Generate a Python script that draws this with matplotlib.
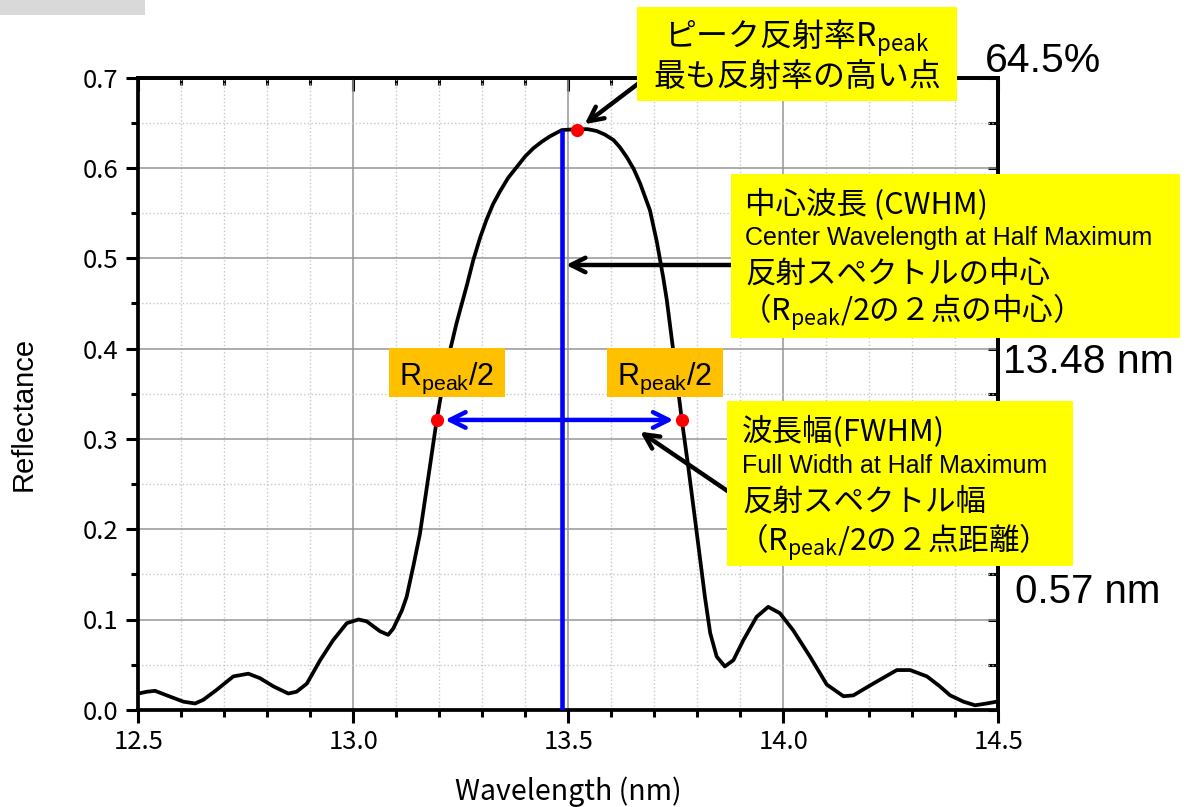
import numpy as np
import matplotlib
matplotlib.use('Agg')
import matplotlib.pyplot as plt
from matplotlib.patches import Rectangle
from matplotlib.ticker import MultipleLocator, FormatStrFormatter

# %% data
wavelength = [12.500, 12.520, 12.539, 12.566, 12.605, 12.632, 12.651, 12.682,
              12.721, 12.756, 12.783, 12.814, 12.849, 12.868, 12.892, 12.923,
              12.953, 12.985, 13.012, 13.031, 13.062, 13.081, 13.093, 13.113,
              13.124, 13.140, 13.155, 13.178, 13.194, 13.206, 13.225, 13.240,
              13.264, 13.279, 13.295, 13.310, 13.325, 13.341, 13.360, 13.380,
              13.400, 13.419, 13.438, 13.457, 13.485, 13.520, 13.545, 13.566,
              13.585, 13.605, 13.620, 13.636, 13.652, 13.667, 13.690, 13.706,
              13.721, 13.729, 13.744, 13.764, 13.779, 13.799, 13.818, 13.830,
              13.845, 13.864, 13.884, 13.907, 13.938, 13.965, 13.992, 14.023,
              14.062, 14.101, 14.140, 14.163, 14.209, 14.264, 14.295, 14.334,
              14.364, 14.388, 14.419, 14.446, 14.473, 14.496]
reflectance = [0.018, 0.020, 0.021, 0.016, 0.009, 0.007, 0.011, 0.022,
               0.037, 0.040, 0.035, 0.026, 0.018, 0.020, 0.029, 0.055,
               0.077, 0.096, 0.100, 0.098, 0.087, 0.083, 0.090, 0.110,
               0.125, 0.160, 0.195, 0.269, 0.321, 0.354, 0.398, 0.428,
               0.470, 0.498, 0.523, 0.543, 0.560, 0.574, 0.589, 0.601,
               0.613, 0.622, 0.629, 0.635, 0.642, 0.643, 0.643, 0.641,
               0.637, 0.631, 0.623, 0.612, 0.599, 0.583, 0.553, 0.518,
               0.478, 0.454, 0.398, 0.321, 0.269, 0.195, 0.124, 0.085,
               0.059, 0.048, 0.055, 0.077, 0.103, 0.114, 0.107, 0.088,
               0.059, 0.028, 0.015, 0.016, 0.029, 0.044, 0.044, 0.037,
               0.026, 0.016, 0.009, 0.005, 0.007, 0.009]

peak_wl, peak_r = 13.52, 0.642
half_wl = [13.194, 13.764]
half_r = 0.321
center_wl = 13.485

peak_text = '64.5%'
cwhm_text = '13.48 nm'
fwhm_text = '0.57 nm'

# %% fonts
JP = ['Noto Sans CJK JP', 'DejaVu Sans']
EN = ['Liberation Sans', 'DejaVu Sans']
plt.rcParams['font.family'] = JP
plt.rcParams['mathtext.fontset'] = 'custom'
plt.rcParams['mathtext.rm'] = 'Noto Sans CJK JP'

W, H = 1197, 807
fig = plt.figure(figsize=(W / 100, H / 100), dpi=100)
ax = fig.add_axes([138.3 / W, 1 - 709.8 / H, 860 / W, 632.1 / H])


def fxy(x, y):
    # pixel position measured from the top left -> figure fraction
    return x / W, 1 - y / H


def box(x0, y0, x1, y1, colour):
    fig.add_artist(Rectangle(fxy(x0, y1), (x1 - x0) / W, (y1 - y0) / H,
                             transform=fig.transFigure, facecolor=colour,
                             edgecolor='none', zorder=2))


def ftext(x, y, s, size, family=JP, ha='left'):
    fig.text(*fxy(x, y), s, fontsize=size, family=family, ha=ha,
             va='baseline', zorder=4)


# %% main plot
ax.plot(wavelength, reflectance, color='black', lw=2.7, zorder=3,
        solid_joinstyle='round')
center_r = np.interp(center_wl, wavelength, reflectance)
ax.vlines(center_wl, 0, center_r, color='#0000ff', lw=3.3, zorder=4)
ax.annotate('', xy=(half_wl[1], half_r), xytext=(half_wl[0], half_r),
            arrowprops=dict(arrowstyle='<->', color='#0000ff', lw=3.2,
                            shrinkA=6, shrinkB=6, mutation_scale=28), zorder=5)
ax.plot([peak_wl] + half_wl, [peak_r, half_r, half_r], 'o', color='#ff0000',
        ms=9.5, mec='none', zorder=6)

ax.set_xlim(12.5, 14.5)
ax.set_ylim(0, 0.7)
ax.xaxis.set_major_locator(MultipleLocator(0.5))
ax.xaxis.set_minor_locator(MultipleLocator(0.1))
ax.yaxis.set_major_locator(MultipleLocator(0.1))
ax.yaxis.set_minor_locator(MultipleLocator(0.05))
ax.xaxis.set_major_formatter(FormatStrFormatter('%.1f'))
ax.yaxis.set_major_formatter(FormatStrFormatter('%.1f'))
ax.grid(which='major', color='#969696', lw=1.1)
ax.grid(which='minor', color='#c8c8c8', lw=1, ls=':')
ax.set_axisbelow(True)
for sp in ax.spines.values():
    sp.set_linewidth(2.7)
ax.tick_params(which='both', direction='out', width=2.2, labelsize=18.5, pad=5)
ax.tick_params(which='major', length=9)
ax.tick_params(which='minor', length=5)

top = ax.secondary_xaxis('top')
top.xaxis.set_major_locator(MultipleLocator(0.5))
top.xaxis.set_minor_locator(MultipleLocator(0.1))
top.tick_params(which='both', direction='in', width=2.2, labeltop=False)
top.tick_params(which='major', length=9)
top.tick_params(which='minor', length=5)
right = ax.secondary_yaxis('right')
right.yaxis.set_major_locator(MultipleLocator(0.1))
right.yaxis.set_minor_locator(MultipleLocator(0.05))
right.tick_params(which='both', direction='in', width=2.2, labelright=False)
right.tick_params(which='major', length=7)
right.tick_params(which='minor', length=7)
for sec in (top, right):
    for sp in sec.spines.values():
        sp.set_linewidth(2.7)

ax.set_xlabel('Wavelength (nm)', fontsize=20.5)
ax.xaxis.set_label_coords(0.5, -0.105)
ax.set_ylabel('Reflectance', fontsize=21, family=EN)
ax.yaxis.set_label_coords(-0.117, 0.468)

# %% annotations
fig.add_artist(Rectangle(fxy(0, 15), 145 / W, 15 / H, transform=fig.transFigure,
                         facecolor='#d9d9d9', edgecolor='none'))

box(637, 7, 957, 101, '#ffff00')
ftext(797, 47, r'ピーク反射率$\mathregular{R_{peak}}$', 23, ha='center')
ftext(797, 86, '最も反射率の高い点', 23, ha='center')
ftext(985, 72, peak_text, 29.5, family=EN)

box(731, 174, 1180, 338, '#ffff00')
ftext(745, 214, '中心波長 (CWHM)', 22)
ftext(745, 245, 'Center Wavelength at Half Maximum', 18, family=EN)
ftext(745, 283, '反射スペクトルの中心', 22)
ftext(740, 321, r'（$\mathregular{R_{peak}}$/2の２点の中心）', 22)
ftext(1003, 373, cwhm_text, 29.5, family=EN)

box(727, 401, 1073, 566, '#ffff00')
ftext(742, 441, '波長幅(FWHM)', 22)
ftext(742, 473, 'Full Width at Half Maximum', 18, family=EN)
ftext(742, 511, '反射スペクトル幅', 22)
ftext(737, 551, r'（$\mathregular{R_{peak}}$/2の２点距離）', 22)
ftext(1015, 603, fwhm_text, 29, family=EN)

box(389, 348, 505, 397, '#ffc000')
box(607, 348, 723, 397, '#ffc000')
for xc in (447, 665):
    ftext(xc, 385, r'R$\mathregular{_{peak}}$/2', 22, family=EN, ha='center')

arrow = dict(arrowstyle='->', color='black', lw=3.2, mutation_scale=26)
ax.annotate('', xy=(peak_wl, peak_r), xytext=fxy(639, 83),
            textcoords='figure fraction',
            arrowprops=dict(arrow, shrinkA=0, shrinkB=7), zorder=5)
ax.annotate('', xy=(center_wl, 0.4926), xytext=fxy(731, 265),
            textcoords='figure fraction',
            arrowprops=dict(arrow, shrinkA=0, shrinkB=3), zorder=5)
ax.annotate('', xy=(13.667, 0.308), xytext=fxy(729, 492),
            textcoords='figure fraction',
            arrowprops=dict(arrow, shrinkA=0, shrinkB=0), zorder=5)

fig.savefig('out.png', dpi=100)
